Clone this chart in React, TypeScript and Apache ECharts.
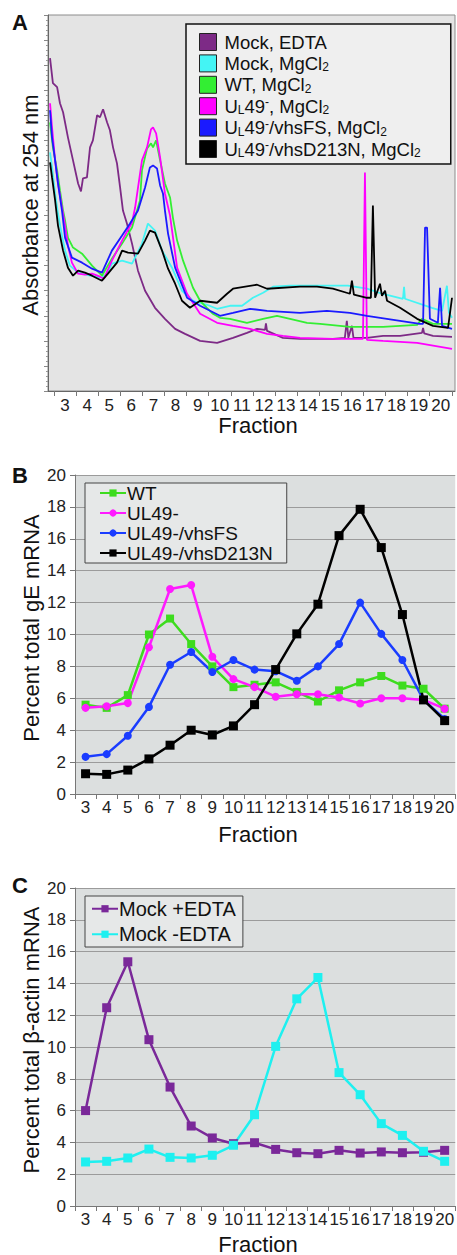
import React, { useEffect, useRef } from "react";
import * as echarts from "echarts";

const FONT = '"Liberation Sans", Arial, Helvetica, sans-serif';

// ---------- Panel A: absorbance traces [fraction, absorbance (arbitrary units)] ----------
const traceMockEDTA = [
  [2.32, 13.28], [2.45, 12.28], [2.64, 12.12], [2.77, 11.48], [2.91, 11.12], [3.13, 10.12], [3.36, 9.2],
  [3.59, 8.28], [3.72, 7.96], [3.81, 8.48], [3.99, 8.52], [4.13, 9.72], [4.26, 10.0], [4.45, 11.0],
  [4.58, 10.92], [4.72, 11.24], [4.9, 10.72], [5.03, 10.4], [5.17, 9.72], [5.35, 9.08], [5.49, 8.12],
  [5.62, 7.2], [5.8, 6.68], [6.03, 5.88], [6.3, 4.8], [6.62, 4.0], [7.07, 3.32], [7.52, 2.88],
  [7.98, 2.48], [8.43, 2.28], [9.11, 2.0], [9.88, 1.92], [10.6, 2.12], [11.23, 2.32], [11.69, 2.48],
  [12.05, 2.44], [12.09, 2.7], [12.14, 2.4], [12.86, 2.12], [13.63, 2.08], [15.12, 2.08], [15.66, 2.12],
  [15.75, 2.8], [15.82, 2.12], [15.98, 2.6], [16.05, 2.12], [16.66, 2.12], [17.39, 2.2], [18.16, 2.2],
  [19.15, 2.32], [19.2, 2.52], [19.25, 2.3], [19.65, 2.2], [20.51, 2.16],
];
const traceMockMg = [
  [2.32, 9.52], [2.41, 8.92], [2.55, 7.88], [2.68, 7.08], [2.86, 6.2], [3.0, 5.6], [3.22, 5.0],
  [3.59, 4.72], [4.13, 4.6], [4.67, 4.52], [4.94, 4.72], [5.12, 5.08], [5.58, 5.2], [6.03, 5.08],
  [6.48, 5.88], [6.75, 6.68], [7.07, 6.4], [7.39, 5.6], [7.84, 4.92], [8.29, 4.0], [8.79, 3.6],
  [9.42, 3.44], [9.88, 3.28], [10.46, 3.4], [11.01, 3.4], [11.5, 3.72], [11.96, 3.92], [12.41, 4.16],
  [13.18, 4.2], [14.54, 4.2], [15.8, 4.2], [16.66, 4.08], [17.34, 3.88], [18.29, 3.68], [18.34, 4.16],
  [18.38, 3.68], [19.6, 3.32], [20.06, 3.2], [20.28, 4.2], [20.37, 3.12], [20.51, 2.92],
];
const traceWT = [
  [2.32, 10.72], [2.45, 9.72], [2.64, 8.8], [2.77, 8.0], [2.91, 7.2], [3.0, 6.8], [3.13, 6.12],
  [3.36, 5.72], [3.77, 5.48], [4.22, 5.0], [4.67, 4.6], [5.12, 5.28], [5.58, 5.88], [6.03, 6.52],
  [6.39, 7.6], [6.48, 8.8], [6.71, 9.68], [6.89, 9.88], [6.98, 9.72], [7.12, 10.0], [7.3, 9.2],
  [7.52, 8.28], [7.75, 7.72], [7.88, 6.92], [8.07, 6.0], [8.34, 5.2], [8.79, 4.12], [9.11, 3.6],
  [9.42, 3.32], [9.69, 3.08], [10.01, 2.92], [10.46, 2.88], [11.23, 2.72], [11.96, 2.88], [12.59, 3.0],
  [13.18, 2.88], [13.95, 2.72], [14.54, 2.68], [15.89, 2.56], [17.39, 2.56], [18.93, 2.64],
  [19.15, 2.88], [19.65, 2.68], [20.51, 2.68],
];
const traceUL49 = [
  [2.32, 11.48], [2.41, 10.52], [2.55, 9.2], [2.68, 8.28], [2.86, 7.32], [3.0, 6.6], [3.13, 5.8],
  [3.31, 5.12], [3.59, 4.68], [3.9, 4.64], [4.22, 4.68], [4.58, 4.56], [4.76, 4.48], [5.12, 5.2],
  [5.58, 6.0], [6.03, 6.72], [6.17, 7.32], [6.48, 9.2], [6.71, 9.72], [6.89, 10.44], [6.98, 10.52],
  [7.12, 10.28], [7.3, 9.32], [7.52, 7.88], [7.75, 7.0], [8.07, 4.92], [8.52, 3.88], [9.11, 3.08],
  [9.88, 2.72], [10.6, 2.6], [11.37, 2.48], [12.14, 2.28], [12.86, 2.2], [13.63, 2.12], [15.12, 2.08],
  [16.48, 2.08], [16.57, 8.72], [16.66, 2.04], [17.39, 2.0], [18.93, 1.92], [20.51, 1.68],
];
const traceVhsFS = [
  [2.32, 11.2], [2.41, 10.12], [2.55, 9.2], [2.68, 8.28], [2.86, 7.2], [3.0, 6.12], [3.31, 5.32],
  [3.77, 5.12], [4.22, 4.88], [4.67, 4.72], [5.12, 5.6], [5.58, 6.2], [5.94, 6.68], [6.3, 7.2],
  [6.62, 8.12], [6.84, 8.92], [6.98, 9.0], [7.16, 8.88], [7.3, 8.2], [7.43, 7.88], [7.52, 7.2],
  [7.66, 6.28], [7.98, 4.92], [8.52, 3.72], [9.11, 3.4], [10.01, 3.0], [10.6, 3.12], [11.37, 3.28],
  [12.14, 3.2], [13.63, 3.12], [14.85, 3.2], [15.89, 3.12], [16.66, 3.0], [18.16, 2.8], [19.06, 2.68],
  [19.2, 2.68], [19.29, 6.52], [19.38, 6.52], [19.51, 2.88], [19.87, 2.72], [19.97, 4.12],
  [20.06, 2.6], [20.51, 2.48],
];
const traceD213N = [
  [2.32, 9.12], [2.41, 8.52], [2.55, 7.6], [2.68, 6.6], [2.91, 5.6], [3.13, 4.92], [3.36, 4.6],
  [3.59, 4.8], [3.9, 4.72], [4.22, 4.6], [4.67, 4.4], [4.94, 4.68], [5.35, 5.12], [5.58, 5.6],
  [5.85, 5.52], [6.3, 5.48], [6.62, 6.0], [6.84, 6.4], [7.07, 6.32], [7.39, 5.6], [7.66, 4.88],
  [7.98, 4.28], [8.29, 3.6], [8.65, 3.32], [9.11, 3.6], [9.88, 3.52], [10.33, 3.88], [10.6, 4.08],
  [11.69, 4.24], [12.14, 4.08], [13.63, 4.16], [14.4, 4.16], [15.12, 4.08], [15.89, 3.88],
  [15.98, 4.4], [16.07, 3.84], [16.66, 3.72], [16.84, 3.72], [16.93, 7.4], [17.03, 3.72],
  [17.25, 4.28], [17.34, 3.8], [17.48, 4.0], [17.57, 3.6], [18.16, 3.32], [18.93, 2.88],
  [19.65, 2.6], [20.33, 2.52], [20.51, 3.72],
];

// ---------- Panels B & C ----------
const fractions = ["3", "4", "5", "6", "7", "8", "9", "10", "11", "12", "13", "14", "15", "16", "17", "18", "19", "20"];
const gEWT = [5.6, 5.4, 6.2, 10.0, 11.0, 9.4, 8.0, 6.7, 6.85, 7.0, 6.4, 5.8, 6.5, 7.0, 7.4, 6.8, 6.6, 5.35];
const gEUL49 = [5.4, 5.5, 5.7, 9.2, 12.85, 13.1, 8.6, 7.2, 6.7, 6.1, 6.25, 6.25, 6.05, 5.67, 6.0, 6.0, 5.9, 5.35];
const gEvhsFS = [2.33, 2.5, 3.65, 5.46, 8.1, 8.9, 7.65, 8.4, 7.8, 7.7, 7.1, 8.0, 9.4, 12.0, 10.04, 8.4, 5.9, 4.7];
const gED213N = [1.27, 1.23, 1.5, 2.2, 3.06, 4.0, 3.7, 4.27, 5.6, 7.8, 10.04, 11.9, 16.2, 17.85, 15.45, 11.25, 5.9, 4.6];
const actinPlusEDTA = [6.0, 12.47, 15.36, 10.46, 7.48, 5.03, 4.28, 3.92, 3.98, 3.56, 3.35, 3.29, 3.5, 3.33, 3.4, 3.35, 3.38, 3.5];
const actinMinusEDTA = [2.77, 2.81, 3.02, 3.58, 3.06, 3.02, 3.19, 3.82, 5.74, 10.04, 13.03, 14.37, 8.39, 7.0, 5.18, 4.44, 3.44, 2.81];

const legendA = [
  { name: "Mock, EDTA", label: "Mock, EDTA", color: "#7d2a86", data: traceMockEDTA },
  { name: "Mock, MgCl2", label: "Mock, MgCl{sub|2}", color: "#44f4f4", data: traceMockMg },
  { name: "WT, MgCl2", label: "WT, MgCl{sub|2}", color: "#33ee33", data: traceWT },
  { name: "UL49-, MgCl2", label: "U{sub|L}49{sup|-}, MgCl{sub|2}", color: "#ff00ff", data: traceUL49 },
  { name: "UL49-/vhsFS, MgCl2", label: "U{sub|L}49{sup|-}/vhsFS, MgCl{sub|2}", color: "#1a1aff", data: traceVhsFS },
  { name: "UL49-/vhsD213N, MgCl2", label: "U{sub|L}49{sup|-}/vhsD213N, MgCl{sub|2}", color: "#000000", data: traceD213N },
];

export default function App() {
  const ref = useRef<HTMLDivElement>(null);
  useEffect(() => {
    if (!ref.current) return;
    const chart = echarts.init(ref.current, null, { renderer: "svg" });
    const labelMap: Record<string, string> = {};
    legendA.forEach((l) => (labelMap[l.name] = l.label));
    const axisLabelStyle = { fontSize: 17, color: "#222", fontFamily: FONT };
    const catAxis = (gridIndex: number) => ({
      type: "category",
      gridIndex,
      data: fractions,
      boundaryGap: true,
      axisLine: { show: true, lineStyle: { color: "#777", width: 1 } },
      axisTick: { show: true, length: 5, lineStyle: { color: "#777" }, interval: 0 },
      axisLabel: { ...axisLabelStyle, interval: 0, margin: 5 },
    });
    const pctAxis = (gridIndex: number) => ({
      type: "value",
      gridIndex,
      min: 0,
      max: 20,
      interval: 2,
      axisLine: { show: true, lineStyle: { color: "#777", width: 1 } },
      axisTick: { show: true, length: 5, lineStyle: { color: "#777" } },
      axisLabel: { ...axisLabelStyle, margin: 9 },
      splitLine: { show: true, lineStyle: { color: "#9b9b9b", width: 1 } },
    });
    const titleText = (text: string, x: number, y: number, rotate = false, bold = false, size = 22) => ({
      type: "text",
      x,
      y,
      rotation: rotate ? Math.PI / 2 : 0,
      style: {
        text,
        font: `${bold ? "bold " : ""}${size}px ${FONT}`,
        fill: "#111",
        textAlign: "center",
        textVerticalAlign: "middle",
      },
    });

    const option: any = {
      animation: false,
      backgroundColor: "#ffffff",
      textStyle: { fontFamily: FONT },
      grid: [
        { left: 48, top: 15, width: 407, height: 376, show: true, backgroundColor: "#e4e4e4", borderColor: "#8c8c8c", borderWidth: 1 },
        { left: 54, top: 15, width: 397.8, height: 376 },
        { left: 75, top: 475, width: 384, height: 319, show: true, backgroundColor: "#dcdfdf", borderWidth: 0 },
        { left: 75, top: 888, width: 384, height: 318, show: true, backgroundColor: "#dcdfdf", borderWidth: 0 },
      ],
      xAxis: [
        {
          type: "value",
          gridIndex: 0,
          min: 2.228,
          max: 20.645,
          axisLine: { show: true, lineStyle: { color: "#666" } },
          axisTick: { show: false },
          axisLabel: { show: false },
          splitLine: { show: false },
        },
        {
          type: "category",
          gridIndex: 1,
          data: fractions,
          boundaryGap: true,
          axisLine: { show: false },
          axisTick: { show: true, length: 5, lineStyle: { color: "#777" }, interval: 0 },
          axisLabel: { ...axisLabelStyle, interval: 0, margin: 6 },
        },
        catAxis(2),
        catAxis(3),
      ],
      yAxis: [
        {
          type: "value",
          gridIndex: 0,
          min: 0,
          max: 15,
          interval: 1,
          axisLine: { show: true, lineStyle: { color: "#666" } },
          axisTick: { show: true, length: 4, lineStyle: { color: "#888" } },
          minorTick: { show: true, splitNumber: 5, length: 2, lineStyle: { color: "#999" } },
          axisLabel: { show: false },
          splitLine: { show: false },
        },
        { type: "value", gridIndex: 1, min: 0, max: 1, show: false },
        pctAxis(2),
        pctAxis(3),
      ],
      legend: [
        {
          data: legendA.map((l) => l.name),
          orient: "vertical",
          left: 186,
          top: 24,
          padding: [8, 30, 5, 13],
          itemWidth: 17,
          itemHeight: 17,
          itemGap: 1.4,
          icon: "rect",
          itemStyle: { borderColor: "#222", borderWidth: 1 },
          backgroundColor: "#efefef",
          borderColor: "#111",
          borderWidth: 1.5,
          formatter: (name: string) => labelMap[name] || name,
          textStyle: {
            fontSize: 18.5,
            lineHeight: 20,
            color: "#111",
            fontFamily: FONT,
            padding: [0, 0, 0, 3],
            rich: {
              sub: { fontSize: 12, lineHeight: 7, verticalAlign: "bottom", fontFamily: FONT, color: "#111" },
              sup: { fontSize: 12, lineHeight: 10, verticalAlign: "top", fontFamily: FONT, color: "#111" },
            },
          },
        },
        {
          data: ["WT", "UL49-", "UL49-/vhsFS", "UL49-/vhsD213N"],
          orient: "vertical",
          left: 85,
          top: 483,
          padding: [0, 14, 0, 14],
          itemWidth: 26,
          itemHeight: 9,
          itemGap: 0,
          backgroundColor: "#e6e8e8",
          borderColor: "#444",
          borderWidth: 1,
          textStyle: { fontSize: 19, lineHeight: 20, color: "#111", fontFamily: FONT, padding: [0, 0, 0, -4] },
        },
        {
          data: ["Mock +EDTA", "Mock -EDTA"],
          orient: "vertical",
          left: 85,
          top: 896,
          padding: [0, 7, 0, 6],
          itemWidth: 26,
          itemHeight: 9,
          itemGap: 0,
          backgroundColor: "#e6e8e8",
          borderColor: "#444",
          borderWidth: 1,
          textStyle: { fontSize: 20, lineHeight: 25.5, color: "#111", fontFamily: FONT, padding: [0, 0, 0, -4] },
        },
      ],
      series: [
        ...legendA.map((l) => ({
          type: "line",
          name: l.name,
          xAxisIndex: 0,
          yAxisIndex: 0,
          data: l.data,
          showSymbol: false,
          symbol: "none",
          color: l.color,
          lineStyle: { color: l.color, width: 1.8 },
        })),
        { type: "line", name: "WT", xAxisIndex: 2, yAxisIndex: 2, data: gEWT, color: "#3ddc1e", symbol: "rect", symbolSize: 8, lineStyle: { width: 2.5 } },
        { type: "line", name: "UL49-", xAxisIndex: 2, yAxisIndex: 2, data: gEUL49, color: "#ff1aff", symbol: "circle", symbolSize: 8, lineStyle: { width: 2.5 } },
        { type: "line", name: "UL49-/vhsFS", xAxisIndex: 2, yAxisIndex: 2, data: gEvhsFS, color: "#1a3cff", symbol: "circle", symbolSize: 8, lineStyle: { width: 2.5 } },
        { type: "line", name: "UL49-/vhsD213N", xAxisIndex: 2, yAxisIndex: 2, data: gED213N, color: "#000000", symbol: "rect", symbolSize: 9, lineStyle: { width: 2.5 } },
        { type: "line", name: "Mock +EDTA", xAxisIndex: 3, yAxisIndex: 3, data: actinPlusEDTA, color: "#7a2899", symbol: "rect", symbolSize: 9, lineStyle: { width: 2.5 } },
        { type: "line", name: "Mock -EDTA", xAxisIndex: 3, yAxisIndex: 3, data: actinMinusEDTA, color: "#1ef0f0", symbol: "rect", symbolSize: 9, lineStyle: { width: 2.5 } },
      ],
      graphic: [
        titleText("A", 20, 22, false, true, 22),
        titleText("B", 20, 475, false, true, 22),
        titleText("C", 20, 885, false, true, 22),
        titleText("Absorbance at 254 nm", 30, 205, true),
        titleText("Percent total gE mRNA", 31, 628, true),
        titleText("Percent total β-actin mRNA", 31, 1040, true),
        titleText("Fraction", 258, 425),
        titleText("Fraction", 258, 834),
        titleText("Fraction", 258, 1244),
      ],
    };
    chart.setOption(option);
    return () => chart.dispose();
  }, []);
  return <div ref={ref} style={{ position: "absolute", left: 0, top: 0, width: 457, height: 1255 }} />;
}
